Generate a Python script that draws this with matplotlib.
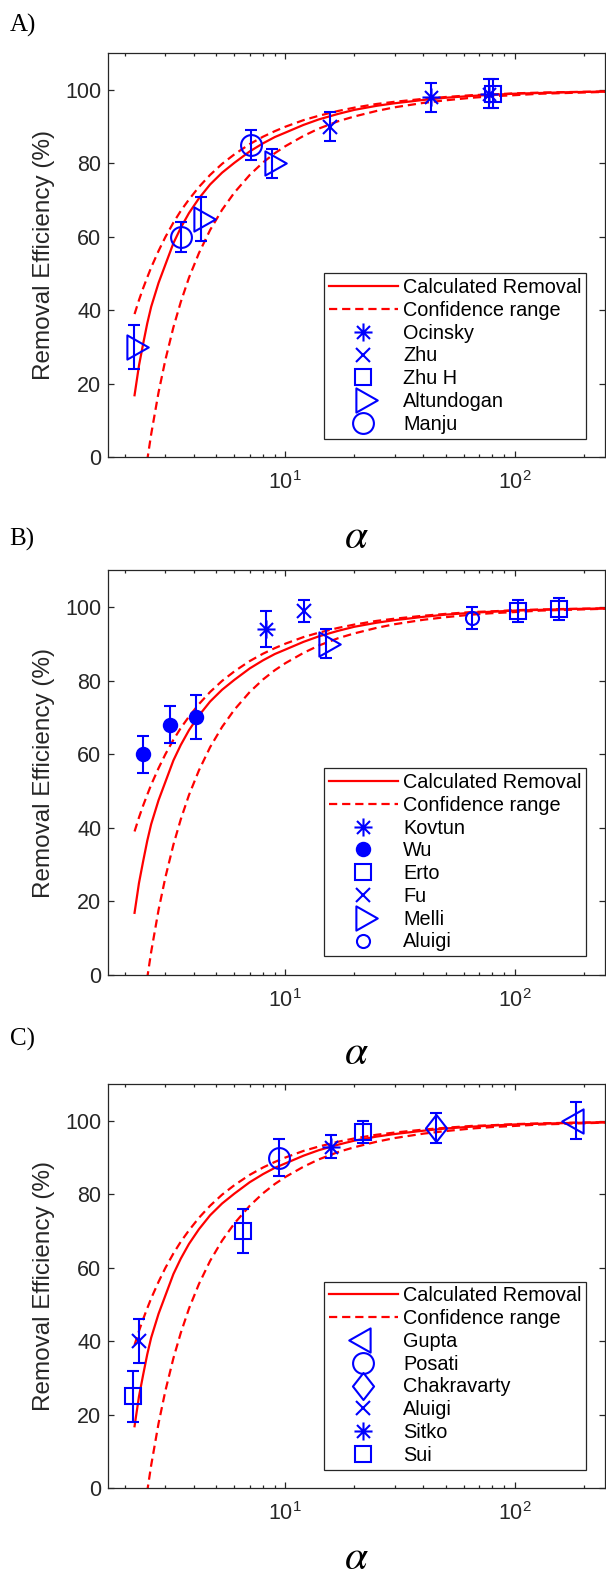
import matplotlib
matplotlib.use('Agg')
import matplotlib.pyplot as plt
from matplotlib.path import Path
from matplotlib.ticker import LogLocator, NullFormatter, FixedLocator

plt.rcParams['font.family'] = ['Liberation Sans', 'DejaVu Sans']
plt.rcParams['mathtext.fontset'] = 'custom'
plt.rcParams['mathtext.rm'] = 'Liberation Sans'
plt.rcParams['mathtext.it'] = 'Liberation Sans:italic'
plt.rcParams['mathtext.bf'] = 'Liberation Sans:bold'

# ---------------- model curves ----------------
alpha_fit = [2.2, 2.3, 2.4, 2.5, 2.6, 2.8, 3.0, 3.25, 3.5, 3.8, 4.2, 4.7, 5.3, 6.0,
             7.0, 8.0, 9.0, 10, 12, 14, 17, 20, 25, 30, 40, 50, 65, 80, 100, 130, 170, 250]
removal_fit = [16.9, 25, 31, 36.5, 41, 47.5, 52.5, 58.3, 62.5, 66.5, 70.5, 74.3, 77.5, 80.2,
               83.3, 85.5, 87.2, 88.4, 90.5, 92.0, 93.5, 94.6, 95.7, 96.4, 97.3, 97.9, 98.4,
               98.7, 99.0, 99.2, 99.4, 99.6]
upper_conf = [39.0, 42.8, 46.1, 49.0, 51.7, 56.2, 60.0, 63.9, 67.1, 70.2, 73.6, 76.9, 79.9, 82.5,
              85.3, 87.3, 88.8, 90.0, 91.8, 93.0, 94.3, 95.2, 96.2, 96.8, 97.6, 98.1, 98.6,
              98.8, 99.1, 99.3, 99.45, 99.6]
alpha_lower = [2.45, 2.5, 2.6, 2.8, 3.0, 3.25, 3.5, 3.8, 4.2, 4.7, 5.3, 6.0, 7.0, 8.0, 9.0, 10,
               12, 14, 17, 20, 25, 30, 40, 50, 65, 80, 100, 130, 170, 250]
lower_conf = [-4.7, -0.7, 6.3, 17.7, 26.6, 35.4, 42.3, 48.9, 55.6, 61.9, 67.4, 72.1, 76.9, 80.3,
              82.8, 84.7, 87.5, 89.5, 91.5, 92.8, 94.3, 95.3, 96.5, 97.2, 97.9, 98.3, 98.6,
              99.0, 99.2, 99.5]

# ---------------- panel A data ----------------
a_ocinsky_alpha = [43.0, 77.4]
a_ocinsky_rem = [98, 99]
a_ocinsky_err = [4, 4]
a_zhu_alpha = [15.7]
a_zhu_rem = [90]
a_zhu_err = [4]
a_zhuh_alpha = [80.2]
a_zhuh_rem = [99]
a_zhuh_err = [4]
a_altundogan_alpha = [2.19, 4.29, 8.78]
a_altundogan_rem = [30, 65, 80]
a_altundogan_err = [6, 6, 4]
a_manju_alpha = [3.50, 7.06]
a_manju_rem = [60, 85]
a_manju_err = [4, 4]

# ---------------- panel B data ----------------
b_kovtun_alpha = [8.21]
b_kovtun_rem = [94]
b_kovtun_err = [5]
b_wu_alpha = [2.39, 3.14, 4.06]
b_wu_rem = [60, 68, 70]
b_wu_err = [5, 5, 6]
b_erto_alpha = [103.7, 156]
b_erto_rem = [99, 99.4]
b_erto_err = [3, 3]
b_fu_alpha = [12.1]
b_fu_rem = [99]
b_fu_err = [3]
b_melli_alpha = [15.0]
b_melli_rem = [90]
b_melli_err = [4]
b_aluigi_alpha = [65.0]
b_aluigi_rem = [97]
b_aluigi_err = [3]

# ---------------- panel C data ----------------
c_gupta_alpha = [186]
c_gupta_rem = [100]
c_gupta_err = [5]
c_posati_alpha = [9.35]
c_posati_rem = [90]
c_posati_err = [5]
c_chakravarty_alpha = [45.4]
c_chakravarty_rem = [98]
c_chakravarty_err = [4]
c_aluigi_alpha = [2.30]
c_aluigi_rem = [40]
c_aluigi_err = [6]
c_sitko_alpha = [15.8]
c_sitko_rem = [93]
c_sitko_err = [3]
c_sui_alpha = [2.17, 6.52, 21.9]
c_sui_rem = [25, 70, 97]
c_sui_err = [7, 6, 3]

y_ticks = [0, 20, 40, 60, 80, 100]

# ---------------- styles ----------------
BLUE = '#0000FF'
RED = '#FF0000'
AXC = '#262626'

M, L = Path.MOVETO, Path.LINETO
asterisk = Path([(0, -1), (0, 1), (-1, 0), (1, 0), (-0.72, -0.72), (0.72, 0.72),
                 (-0.72, 0.72), (0.72, -0.72)], [M, L, M, L, M, L, M, L])
tri_right = Path([(-1, -1.7), (2, 0), (-1, 1.7), (-1, -1.7)], [M, L, L, Path.CLOSEPOLY])
tri_left = Path([(1, -1.7), (-2, 0), (1, 1.7), (1, -1.7)], [M, L, L, Path.CLOSEPOLY])
diamond = Path([(0, -1), (0.78, 0), (0, 1), (-0.78, 0), (0, -1)], [M, L, L, L, Path.CLOSEPOLY])

STY = {
    'ast': dict(marker=asterisk, ms=13, mfc='none'),
    'x': dict(marker='x', ms=10, mfc='none'),
    'sq': dict(marker='s', ms=11, mfc='none'),
    'tr': dict(marker=tri_right, ms=20.5, mfc='none'),
    'tl': dict(marker=tri_left, ms=20.5, mfc='none'),
    'obig': dict(marker='o', ms=15, mfc='none'),
    'osmall': dict(marker='o', ms=9.4, mfc='none'),
    'dot': dict(marker='o', ms=9.6, mfc=BLUE),
    'dia': dict(marker=diamond, ms=19.5, mfc='none'),
}

panels = [
    ('A)', 25, -0.197, [0.1787, 0.7100, 0.8196, 0.2562], [
        ('Ocinsky', a_ocinsky_alpha, a_ocinsky_rem, a_ocinsky_err, 'ast'),
        ('Zhu', a_zhu_alpha, a_zhu_rem, a_zhu_err, 'x'),
        ('Zhu H', a_zhuh_alpha, a_zhuh_rem, a_zhuh_err, 'sq'),
        ('Altundogan', a_altundogan_alpha, a_altundogan_rem, a_altundogan_err, 'tr'),
        ('Manju', a_manju_alpha, a_manju_rem, a_manju_err, 'obig'),
    ]),
    ('B)', 539, -0.193, [0.1787, 0.3817, 0.8196, 0.2568], [
        ('Kovtun', b_kovtun_alpha, b_kovtun_rem, b_kovtun_err, 'ast'),
        ('Wu', b_wu_alpha, b_wu_rem, b_wu_err, 'dot'),
        ('Erto', b_erto_alpha, b_erto_rem, b_erto_err, 'sq'),
        ('Fu', b_fu_alpha, b_fu_rem, b_fu_err, 'x'),
        ('Melli', b_melli_alpha, b_melli_rem, b_melli_err, 'tr'),
        ('Aluigi', b_aluigi_alpha, b_aluigi_rem, b_aluigi_err, 'osmall'),
    ]),
    ('C)', 1039, -0.172, [0.1787, 0.0562, 0.8196, 0.2564], [
        ('Gupta', c_gupta_alpha, c_gupta_rem, c_gupta_err, 'tl'),
        ('Posati', c_posati_alpha, c_posati_rem, c_posati_err, 'obig'),
        ('Chakravarty', c_chakravarty_alpha, c_chakravarty_rem, c_chakravarty_err, 'dia'),
        ('Aluigi', c_aluigi_alpha, c_aluigi_rem, c_aluigi_err, 'x'),
        ('Sitko', c_sitko_alpha, c_sitko_rem, c_sitko_err, 'ast'),
        ('Sui', c_sui_alpha, c_sui_rem, c_sui_err, 'sq'),
    ]),
]

W, H = 606, 1577
fig = plt.figure(figsize=(W / 100, H / 100), dpi=100)
fig.patch.set_facecolor('white')

dash = (0, (3.7, 2.2))
for label, ylab_px, xlab_y, rect, series in panels:
    ax = fig.add_axes(rect)
    ax.plot(alpha_fit, removal_fit, color=RED, lw=1.6, label='Calculated Removal', zorder=2)
    ax.plot(alpha_fit, upper_conf, color=RED, lw=1.6, ls=dash, label='Confidence range', zorder=2)
    ax.plot(alpha_lower, lower_conf, color=RED, lw=1.6, ls=dash, zorder=2)
    for name, xs, ys, es, key in series:
        st = STY[key]
        ax.errorbar(xs, ys, yerr=es, fmt='none', ecolor=BLUE, elinewidth=1.5,
                    capsize=4.3, capthick=1.5, zorder=3)
        ax.plot(xs, ys, ls='none', marker=st['marker'], ms=st['ms'], mec=BLUE,
                mfc=st['mfc'], mew=1.5, label=name, zorder=4)

    ax.set_xscale('log')
    ax.set_xlim(1.69, 248)
    ax.set_ylim(0, 110)
    ax.yaxis.set_major_locator(FixedLocator(y_ticks))
    ax.xaxis.set_major_locator(LogLocator(base=10))
    ax.xaxis.set_minor_locator(LogLocator(base=10, subs=range(2, 10)))
    ax.xaxis.set_minor_formatter(NullFormatter())
    ax.tick_params(which='both', direction='in', top=True, right=True,
                   colors=AXC, labelsize=15.5, width=0.9)
    ax.tick_params(which='major', length=4.5)
    ax.tick_params(which='minor', length=2.5)
    ax.tick_params(axis='y', pad=5)
    ax.tick_params(axis='x', pad=10)
    for sp in ax.spines.values():
        sp.set_color(AXC)
        sp.set_linewidth(0.9)

    ax.set_ylabel('Removal Efficiency (%)', fontsize=17.5, color=AXC)
    ax.yaxis.set_label_coords(-0.108, 0.5)
    ax.set_xlabel(r'$\alpha$', fontsize=30, math_fontfamily='stix', color='black')
    ax.xaxis.set_label_coords(0.5, xlab_y)
    ax.xaxis.label.set_va('center')

    leg = ax.legend(loc='lower left', bbox_to_anchor=(0.434, 0.0465, 0.528, 0.6),
                    mode='expand', borderaxespad=0, fontsize=14.3, numpoints=1,
                    handlelength=3.5, handletextpad=0.25, labelspacing=0.19,
                    borderpad=0.24, fancybox=False, framealpha=1, edgecolor=AXC)
    leg.get_frame().set_linewidth(0.9)

    fig.text(9.6 / W, 1 - ylab_px / H, label, fontsize=18, family='Liberation Serif',
             va='center', ha='left')

fig.savefig('out.png', dpi=100)
